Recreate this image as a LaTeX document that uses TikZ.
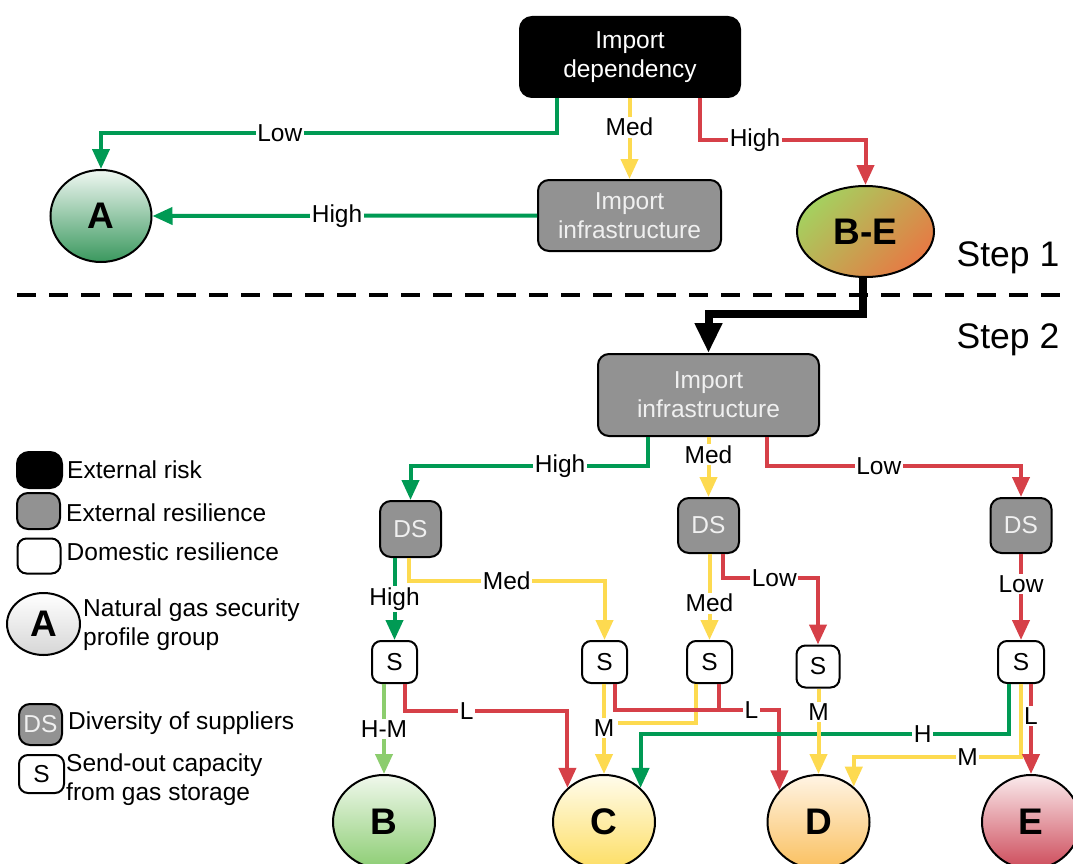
\documentclass[tikz,border=0pt]{standalone}
\usepackage{fontspec}
\setmainfont{Liberation Sans}
\usetikzlibrary{arrows.meta,shapes.geometric,calc}
\definecolor{cgreen}{RGB}{0,154,84}
\definecolor{cyellow}{RGB}{253,218,80}
\definecolor{cred}{RGB}{214,64,72}
\definecolor{clgreen}{RGB}{140,205,110}
\definecolor{cgray}{RGB}{146,146,146}
\definecolor{cgtext}{RGB}{240,240,240}
\definecolor{aTop}{RGB}{240,247,242}
\definecolor{aBot}{RGB}{58,152,94}
\definecolor{beTop}{RGB}{165,208,95}
\definecolor{beMid}{RGB}{248,226,90}
\definecolor{beBot}{RGB}{230,122,68}
\definecolor{bTop}{RGB}{240,248,236}
\definecolor{bBot}{RGB}{140,205,115}
\definecolor{cTop}{RGB}{255,252,236}
\definecolor{cBot}{RGB}{253,222,100}
\definecolor{dTop}{RGB}{255,244,228}
\definecolor{dBot}{RGB}{250,192,95}
\definecolor{eTop}{RGB}{250,234,236}
\definecolor{eBot}{RGB}{205,75,90}
\newcommand{\fsmain}{\fontsize{24.5}{29}\selectfont}
\newcommand{\fsbig}{\fontsize{37}{40}\selectfont\bfseries}
\newcommand{\fsstep}{\fontsize{35.5}{40}\selectfont}
\tikzset{
  every node/.style={font=\fsmain},
  conn/.style={line width=4pt},
  tip/.style={-{Triangle[width=17pt,length=20pt]}},
  lbl/.style={fill=white, inner sep=1.5pt, text=black},
  riskbox/.style={rectangle, rounded corners=12pt, draw=black, line width=2pt, fill=black, text=white, align=center, inner sep=0pt},
  resbox/.style={rectangle, rounded corners=11pt, draw=black, line width=2pt, fill=cgray, text=cgtext, align=center, inner sep=0pt},
  dombox/.style={rectangle, rounded corners=9pt, draw=black, line width=2pt, fill=white, align=center, inner sep=0pt},
  grp/.style={ellipse, draw=black, line width=2pt, inner sep=0pt, font=\fsbig},
  legtxt/.style={anchor=west, inner sep=0pt, align=left},
  steplbl/.style={font=\fsstep, inner sep=0pt},
}
\begin{document}
\begin{tikzpicture}[x=1pt,y=-1pt]
\useasboundingbox (0,0) rectangle (1073,864);

% ---------- Step 1 nodes ----------
\node[riskbox, minimum width=220pt, minimum height=80pt] (dep) at (630,57) {Import\\dependency};
\node[resbox, minimum width=183pt, minimum height=71pt] (infa) at (629.5,215.5) {Import\\infrastructure};
\node[grp, minimum width=101pt, minimum height=92pt, top color=aTop, bottom color=aBot] (A) at (101,216) {A};
\node[grp, minimum width=137pt, minimum height=91pt, top color=beTop, middle color=beMid, bottom color=beBot, shading angle=45] (BE) at (865.5,231.5) {B-E};

% Step 1 connectors
\draw[conn, cgreen, tip] ($(dep.south)+(-73,0)$) -- ++(0,35) -| node[lbl, pos=0.304]{Low} (A.north);
\draw[conn, cyellow, tip] (dep.south -| infa.north) -- node[lbl, pos=0.36]{Med} (infa.north);
\draw[conn, cred, tip] ($(dep.south)+(70,0)$) -- ++(0,42) -| node[lbl, pos=0.166]{High} (BE.north);
\draw[conn, cgreen, tip] (infa.west) -- node[lbl, pos=0.52]{High} (A.east);

% divider and step labels
\coordinate (dl) at (17,295);
\coordinate (dr) at (1073,295);
\draw[line width=3.5pt, dash pattern=on 19pt off 13pt] (dl) -- (dr);
\node[steplbl] (s1) at (1008,258) {Step 1};
\node[steplbl] (s2) at (1008,340) {Step 2};

% ---------- Step 2 nodes ----------
\node[resbox, minimum width=221pt, minimum height=82pt] (infb) at (708.5,395) {Import\\infrastructure};
\draw[line width=8pt, -{Triangle[width=26pt,length=30pt]}] ($(BE.south)+(-3,-1)$) -- ++(0,37) -| (infb.north);

\node[resbox, minimum width=61pt, minimum height=56pt] (ds1) at (410.5,529) {DS};
\node[resbox, minimum width=61pt, minimum height=55pt] (ds2) at (708.5,525.5) {DS};
\node[resbox, minimum width=61pt, minimum height=55pt] (ds3) at (1021,525.5) {DS};

\node[dombox, minimum width=45pt, minimum height=42pt] (s1b) at (394.5,662) {S};
\node[dombox, minimum width=45pt, minimum height=42pt] (s2b) at (604.5,662) {S};
\node[dombox, minimum width=45pt, minimum height=42pt] (s3b) at (709.5,662) {S};
\node[dombox, minimum width=43pt, minimum height=42pt] (s4b) at (818,666.5) {S};
\node[dombox, minimum width=46pt, minimum height=42pt] (s5b) at (1021,662) {S};

\node[grp, minimum width=102pt, minimum height=94pt, top color=bTop, bottom color=bBot] (B) at (384,822) {B};
\node[grp, minimum width=102pt, minimum height=94pt, top color=cTop, bottom color=cBot] (C) at (604,822) {C};
\node[grp, minimum width=102pt, minimum height=94pt, top color=dTop, bottom color=dBot] (D) at (818.5,822) {D};
\node[grp, minimum width=98pt, minimum height=94pt, top color=eTop, bottom color=eBot] (E) at (1031,822) {E};

% infrastructure -> DS
\draw[conn, cgreen, tip] ($(infb.south)+(-60.5,0)$) -- ++(0,29) -| node[lbl, pos=0.185]{High} (ds1.north);
\draw[conn, cyellow, tip] (infb.south) -- node[lbl, pos=0.29]{Med} (ds2.north);
\draw[conn, cred, tip] ($(infb.south)+(58.5,0)$) -- ++(0,29) -| node[lbl, pos=0.22]{Low} (ds3.north);

% DS -> S
\draw[conn, cgreen, tip] (ds1.south -| s1b.north) -- node[lbl]{High} (s1b.north);
\draw[conn, cyellow, tip] ($(ds1.south)+(-1.5,0)$) -- ++(0,23) -| node[lbl, pos=0.25]{Med} (s2b.north);
\draw[conn, cyellow, tip] (ds2.south -| s3b.north) -- node[lbl, pos=0.57]{Med} (s3b.north);
\draw[conn, cred, tip] ($(ds2.south)+(14.5,0)$) -- ++(0,24) -| node[lbl, pos=0.27]{Low} (s4b.north);
\draw[conn, cred, tip] (ds3.south) -- node[lbl, pos=0.35]{Low} (s5b.north);

% S -> groups
\coordinate (mjoin) at ($(s2b.south)+(13.5,39)$);
\draw[conn, cred] ($(s3b.south)+(9.5,0)$) -- ++(0,26);
\draw[conn, cyellow] ($(s3b.south)+(-13.5,0)$) |- (mjoin);
\draw[conn, clgreen, tip] (s1b.south -| B.north) -- node[lbl]{H-M} (B.north);
\draw[conn, cred, tip] ($(s1b.south)+(10.5,0)$) -- ++(0,27) -| node[lbl, pos=0.19]{L} (C.137);
\draw[conn, cyellow, tip] (s2b.south -| C.north) -- node[lbl, pos=0.49]{M} (C.north);
\draw[conn, cred, tip] ($(s2b.south)+(10.5,0)$) -- ++(0,26) -| node[lbl, pos=0.415]{L} (D.141);
\draw[conn, cgreen, tip] ($(s5b.south)+(-12,0)$) -- ++(0,50) -| node[lbl, pos=0.117]{H} (C.43);
\draw[conn, cyellow, tip] (s4b.south -| D.north) -- node[lbl, pos=0.27]{M} (D.north);
\draw[conn, cyellow, tip] (s5b.south) -- ++(0,73) -| node[lbl, pos=0.16]{M} (D.45);
\draw[conn, cred, tip] (s5b.south -| E.north) -- node[lbl, pos=0.36]{L} (E.north);

% ---------- Legend ----------
\node[riskbox, minimum width=45pt, minimum height=36pt] (lg1) at (39.5,470) {};
\node[legtxt] (lt1) at ($(lg1.east)+(4,0)$) {External risk};
\node[resbox, minimum width=43pt, minimum height=36pt] (lg2) at (38.5,511) {};
\node[legtxt] (lt2) at ($(lg2.east)+(5,2)$) {External resilience};
\node[dombox, minimum width=43pt, minimum height=35pt] (lg3) at (39,556) {};
\node[legtxt] (lt3) at ($(lg3.east)+(5,-4)$) {Domestic resilience};
\node[grp, minimum width=73pt, minimum height=62pt, top color=white, bottom color=black!16] (lg4) at (43.5,624) {A};
\node[legtxt] (lt4) at ($(lg4.east)+(2,1)$) {Natural gas security\\profile group};
\node[resbox, minimum width=43pt, minimum height=41pt] (lg5) at (40.5,724.5) {DS};
\node[legtxt] (lt5) at ($(lg5.east)+(5,-1)$) {Diversity of suppliers};
\node[dombox, minimum width=45pt, minimum height=38pt] (lg6) at (41.5,774) {S};
\node[legtxt] (lt6) at ($(lg6.east)+(1,6)$) {Send-out capacity\\from gas storage};
\end{tikzpicture}
\end{document}
